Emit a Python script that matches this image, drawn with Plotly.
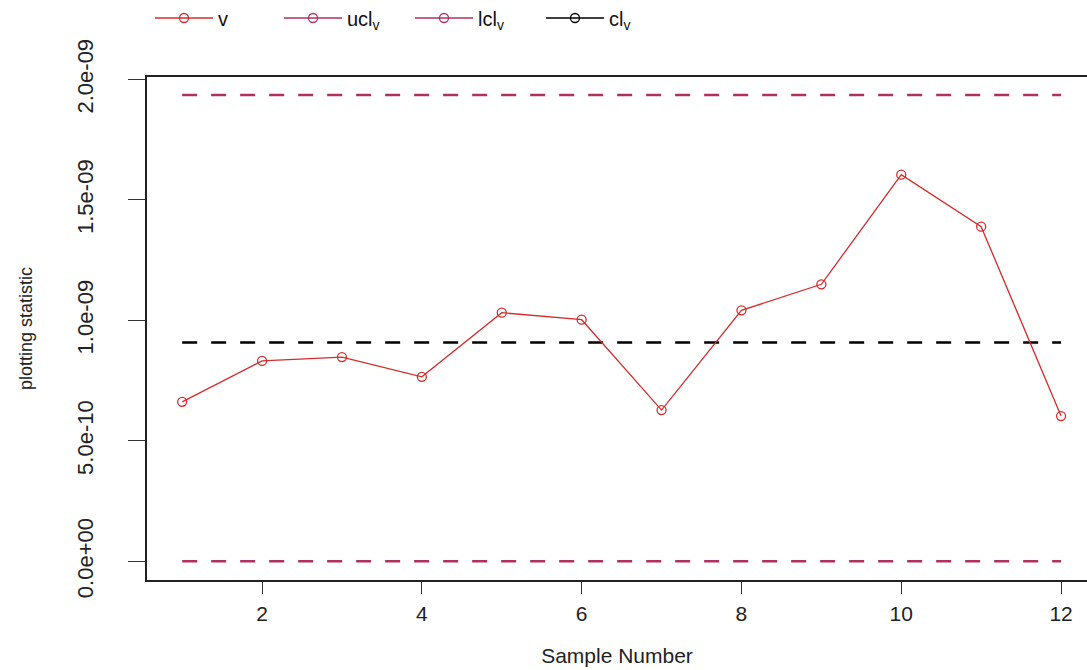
import plotly.graph_objects as go

sample = list(range(1, 13))
v = [0.662e-9, 0.832e-9, 0.848e-9, 0.766e-9, 1.032e-9, 1.003e-9,
     0.628e-9, 1.042e-9, 1.150e-9, 1.605e-9, 1.389e-9, 0.603e-9]
ucl = [1.936e-9] * 12
lcl = [0.0] * 12
cl = [0.908e-9] * 12

ytick_vals = [0.0, 0.5e-9, 1.0e-9, 1.5e-9, 2.0e-9]
ytick_text = ["0.0e+00", "5.0e-10", "1.0e-09", "1.5e-09", "2.0e-09"]
xtick_vals = [2, 4, 6, 8, 10, 12]

RED = "#d42c2c"
MAROON = "#b03060"
BLACK = "#000000"
FONT = "Liberation Sans, Arial, sans-serif"

fig = go.Figure()

# limit lines
fig.add_trace(go.Scatter(x=sample, y=ucl, mode="lines", showlegend=False,
                         line=dict(color=MAROON, width=2.5, dash="15px,14px")))
fig.add_trace(go.Scatter(x=sample, y=lcl, mode="lines", showlegend=False,
                         line=dict(color=MAROON, width=2.5, dash="15px,14px")))
fig.add_trace(go.Scatter(x=sample, y=cl, mode="lines", showlegend=False,
                         line=dict(color=BLACK, width=2.5, dash="15px,14px")))
# statistic
fig.add_trace(go.Scatter(x=sample, y=v, mode="lines+markers", name="v", legend="legend",
                         line=dict(color=RED, width=1.3),
                         marker=dict(symbol="circle-open", size=9, color=RED, line=dict(width=1.3))))

# legend entries (solid line + circle, as in reference)
legend_specs = [("ucl<sub>v</sub>", MAROON, "legend2"),
                ("lcl<sub>v</sub>", MAROON, "legend3"),
                ("cl<sub>v</sub>", BLACK, "legend4")]
for name, col, lg in legend_specs:
    fig.add_trace(go.Scatter(x=[None], y=[None], mode="lines+markers", name=name, legend=lg,
                             line=dict(color=col, width=1.3),
                             marker=dict(symbol="circle-open", size=9, color=col, line=dict(width=1.3))))

W, H = 1087, 670
L, T, B = 147, 77, 90
px_per_unit = 79.9
x0 = 0.56
x1 = x0 + (W - L) / px_per_unit

leg_common = dict(orientation="h", yanchor="middle", yref="container", y=1 - 18 / H,
                  xanchor="left", font=dict(family=FONT, size=20, color="#111111"),
                  bgcolor="rgba(0,0,0,0)", itemwidth=58)
legx = [150, 279, 410, 541]
fig.update_layout(
    width=W, height=H,
    margin=dict(l=L, r=0, t=T, b=B),
    paper_bgcolor="white", plot_bgcolor="white",
    font=dict(family=FONT, size=20, color="#222222"),
    legend=dict(**leg_common, x=(legx[0] - L) / (W - L)),
    legend2=dict(**leg_common, x=(legx[1] - L) / (W - L)),
    legend3=dict(**leg_common, x=(legx[2] - L) / (W - L)),
    legend4=dict(**leg_common, x=(legx[3] - L) / (W - L)),
    xaxis=dict(range=[x0, x1], tickvals=xtick_vals, ticks="outside", ticklen=12,
               tickcolor="#333", tickwidth=1.2, showgrid=False, zeroline=False,
               showline=True, linecolor="#222", linewidth=1.5, mirror=True,
               tickfont=dict(size=21, color="#222"), ticklabelstandoff=2,
               title=dict(text="Sample Number", font=dict(size=21, color="#222"), standoff=24)),
    yaxis=dict(range=[-0.0773e-9, 2.0103e-9], tickvals=ytick_vals, ticktext=ytick_text,
               tickangle=-90, ticks="outside", ticklen=17, tickcolor="#333", tickwidth=1.2,
               showgrid=False, zeroline=False, showline=True, linecolor="#222", linewidth=1.5,
               tickfont=dict(size=22, color="#222"), ticklabelstandoff=26,
               title=dict(text="plotting statistic", font=dict(size=18, color="#222"), standoff=36)),
)

fig.write_html("out.html")
